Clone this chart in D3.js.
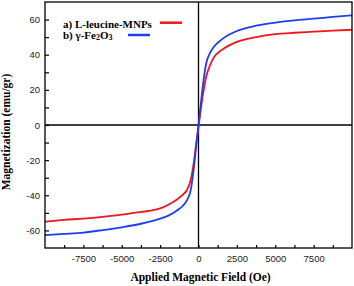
<!DOCTYPE html>
<html>
<head>
<meta charset="utf-8">
<script src="https://cdn.jsdelivr.net/npm/d3@7"></script>
<style>
body { margin: 0; background: #fff; }
.tick text { font-family: "Liberation Sans", Arial, sans-serif; font-size: 9.5px; fill: #222; }
</style>
</head>
<body>
<div id="graph"></div>
<script>
var svgWidth = 354;
var svgHeight = 286;

// plot box
var boxLeft = 45, boxRight = 352, boxTop = 2, boxBottom = 248;

// data
var field = [-10000, -8750, -7500, -6250, -5000, -3750, -2500, -2000, -1500, -1000, -750, -500, -300, -150, 0,
	150, 300, 500, 750, 1000, 1500, 2000, 2500, 3750, 5000, 6250, 7500, 8750, 10000];
var magLeucine = [-55.0, -54.0, -53.3, -52.3, -51.0, -49.5, -47.5, -45.5, -43.0, -39.5, -37.0, -31, -21, -10.5, -1,
	9, 18, 27.5, 34, 38.5, 42.6, 45.3, 47.3, 50.0, 51.7, 52.5, 53.1, 53.7, 54.2];
var magFe2O3 = [-62.7, -62.0, -61.2, -59.8, -58.2, -56.2, -53.3, -51.7, -49.2, -45.8, -42.8, -36.8, -24, -12, 0,
	12, 23.5, 35, 41, 44.5, 48.6, 51.5, 53.5, 56.5, 58.3, 59.6, 60.5, 61.5, 62.4];

var xMajor = [-7500, -5000, -2500, 0, 2500, 5000, 7500];
var xMinor = [-8750, -6250, -3750, -1250, 1250, 3750, 6250, 8750];
var yMajor = [-60, -40, -20, 0, 20, 40, 60];
var yMinor = [-50, -30, -10, 10, 30, 50];

var legendLabels = ["a) L-leucine-MNPs", "b) γ-Fe"];
var colors = ["#f01620", "#1f3df0"];

var x = d3.scaleLinear().domain([-10000, 10000]).range([boxLeft, boxRight]);
var y = d3.scaleLinear().domain([-70, 70]).range([boxBottom, boxTop]);

var svg = d3.select("#graph")
	.append("svg")
	.attr("width", svgWidth)
	.attr("height", svgHeight);

// axes, ticks point inward
svg.append("g").attr("transform", "translate(0," + boxBottom + ")")
	.call(d3.axisBottom(x).tickValues(xMajor).tickSize(-3).tickPadding(7).tickFormat(function(d) { return String(d); }));
svg.append("g").attr("transform", "translate(0," + boxBottom + ")")
	.call(d3.axisBottom(x).tickValues(xMinor).tickSize(-3).tickFormat(""));
svg.append("g").attr("transform", "translate(" + boxLeft + ",0)")
	.call(d3.axisLeft(y).tickValues(yMajor).tickSize(-4).tickPadding(5).tickFormat(function(d) { return String(d); }));
svg.append("g").attr("transform", "translate(" + boxLeft + ",0)")
	.call(d3.axisLeft(y).tickValues(yMinor).tickSize(-4).tickFormat(""));
svg.selectAll(".domain").remove();
svg.selectAll(".tick line").attr("stroke", "#000").attr("stroke-width", 1.2);

// zero lines
svg.append("line")
	.attr("x1", x(0)).attr("x2", x(0))
	.attr("y1", boxTop).attr("y2", boxBottom)
	.attr("stroke", "#000").attr("stroke-width", 1.3);
svg.append("line")
	.attr("x1", boxLeft).attr("x2", boxRight)
	.attr("y1", y(0)).attr("y2", y(0))
	.attr("stroke", "#000").attr("stroke-width", 1.3);

// curves
var series = [magLeucine, magFe2O3];
var line = d3.line()
	.x(function(d, i) { return x(field[i]); })
	.y(function(d) { return y(d); })
	.curve(d3.curveMonotoneX);

svg.append("g").selectAll("path")
	.data(series)
	.enter().append("path")
	.attr("d", line)
	.attr("fill", "none")
	.attr("stroke", function(d, i) { return colors[i]; })
	.attr("stroke-width", 1.8);

// frame
svg.append("rect")
	.attr("x", boxLeft).attr("y", boxTop)
	.attr("width", boxRight - boxLeft).attr("height", boxBottom - boxTop)
	.attr("fill", "none").attr("stroke", "#000").attr("stroke-width", 1.3);

// legend
var serifFont = "'Liberation Serif', 'Times New Roman', serif";
svg.append("text")
	.attr("x", 63).attr("y", 27.5)
	.attr("font-family", serifFont).attr("font-weight", "bold").attr("font-size", 11)
	.text(legendLabels[0]);
var t2 = svg.append("text")
	.attr("x", 63).attr("y", 39)
	.attr("font-family", serifFont).attr("font-weight", "bold").attr("font-size", 11)
	.text(legendLabels[1]);
t2.append("tspan").attr("font-size", 8).attr("dy", 1).text("2");
t2.append("tspan").attr("font-size", 11).attr("dy", -1).text("O");
t2.append("tspan").attr("font-size", 8).attr("dy", 1).text("3");

svg.append("line")
	.attr("x1", 160).attr("x2", 182).attr("y1", 22.7).attr("y2", 22.7)
	.attr("stroke", colors[0]).attr("stroke-width", 2.5);
svg.append("line")
	.attr("x1", 128).attr("x2", 150).attr("y1", 35).attr("y2", 35)
	.attr("stroke", colors[1]).attr("stroke-width", 2.5);

// axis titles
svg.append("text")
	.attr("x", (boxLeft + boxRight) / 2 + 2)
	.attr("y", 281)
	.attr("text-anchor", "middle")
	.attr("font-family", serifFont).attr("font-weight", "bold").attr("font-size", 11.5)
	.text("Applied Magnetic Field (Oe)");
svg.append("text")
	.attr("transform", "translate(10,132) rotate(-90)")
	.attr("text-anchor", "middle")
	.attr("font-family", serifFont).attr("font-weight", "bold").attr("font-size", 11.5)
	.text("Magnetization (emu/gr)");
</script>
</body>
</html>
